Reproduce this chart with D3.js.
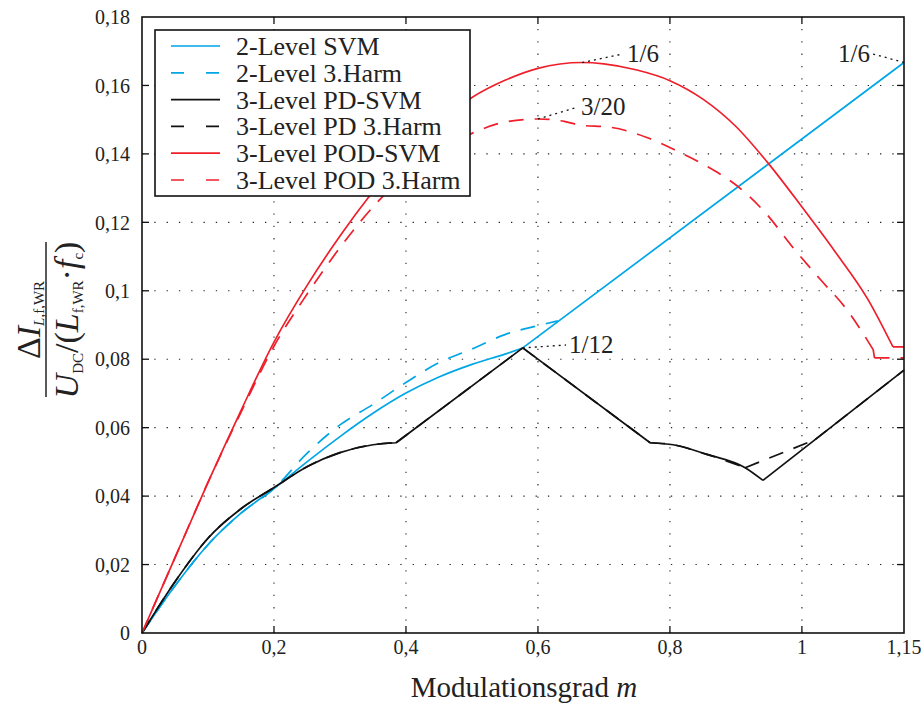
<!DOCTYPE html>
<html>
<head>
<meta charset="utf-8">
<script src="https://cdn.jsdelivr.net/npm/d3@7"></script>
<style>
  body { margin: 0; background: #fff; }
  svg text { font-family: Liberation Serif; }
</style>
</head>
<body>
<script>
var width = 921,
    height = 707;

// values
var mSvm2 = [0, 0.05, 0.1, 0.15, 0.2, 0.25, 0.3, 0.35, 0.4, 0.45, 0.5, 0.55, 0.577, 1.1547];
var svm2 = [0, 0.0138, 0.0258, 0.0350, 0.0422, 0.0500, 0.0574, 0.0642, 0.0701, 0.0748, 0.0785, 0.0815, 0.0833, 0.1667];

var mHarm2 = [0, 0.05, 0.1, 0.15, 0.2, 0.25, 0.3, 0.35, 0.4, 0.45, 0.5, 0.55, 0.6, 0.63];
var harm2 = [0, 0.0138, 0.0258, 0.0350, 0.0422, 0.0525, 0.0608, 0.0668, 0.0732, 0.0790, 0.0830, 0.0872, 0.0898, 0.0912];

var mPd = [0, 0.05, 0.1, 0.15, 0.2, 0.25, 0.3, 0.35, 0.385, 0.577, 0.77, 0.805, 0.856, 0.914, 0.941, 1.1547];
var pdSvm = [0, 0.0150, 0.0277, 0.0363, 0.0425, 0.0486, 0.0527, 0.0550, 0.0556, 0.0833, 0.0556, 0.0550, 0.0522, 0.0483, 0.0446, 0.0768];

var mPdHarm = [0, 0.05, 0.1, 0.15, 0.2, 0.25, 0.3, 0.35, 0.385, 0.577, 0.77, 0.805, 0.856, 0.914, 1.02, 1.1547];
var pdHarm = [0, 0.0150, 0.0277, 0.0363, 0.0425, 0.0486, 0.0527, 0.0550, 0.0556, 0.0833, 0.0556, 0.0550, 0.0522, 0.0483, 0.0565, 0.0768];

var mPod = [0, 0.05, 0.1, 0.15, 0.2, 0.25, 0.3, 0.35, 0.4, 0.45, 0.5, 0.55, 0.6, 0.667, 0.7, 0.75, 0.8, 0.85, 0.9, 0.95, 1.0, 1.05, 1.1, 1.138, 1.1547];
var podSvm = [0, 0.0220, 0.0440, 0.0650, 0.0850, 0.1015, 0.1160, 0.1290, 0.1405, 0.1495, 0.1565, 0.1615, 0.1650, 0.1667, 0.1663, 0.1645, 0.1614, 0.1560, 0.1480, 0.1370, 0.1245, 0.1115, 0.0975, 0.0836, 0.0836];

var mPodHarm = [0, 0.05, 0.1, 0.15, 0.2, 0.25, 0.3, 0.35, 0.4, 0.45, 0.5, 0.55, 0.6, 0.64, 0.664, 0.709, 0.765, 0.81, 0.85, 0.906, 0.946, 0.987, 1.027, 1.068, 1.108, 1.11, 1.1547];
var podHarm = [0, 0.0220, 0.0440, 0.0645, 0.0838, 0.0990, 0.1126, 0.1245, 0.1340, 0.1410, 0.1460, 0.1493, 0.1502, 0.1495, 0.1484, 0.1478, 0.1448, 0.1409, 0.1370, 0.1300, 0.1225, 0.1125, 0.1035, 0.0945, 0.0828, 0.0804, 0.0804];

// m values where a curve has a corner
var kinksSvm2 = [0.577];
var kinksPd = [0.385, 0.577, 0.77, 0.941];
var kinksPdHarm = [0.385, 0.577, 0.77, 0.914, 1.02];
var kinksPod = [1.138];
var kinksPodHarm = [1.108, 1.11];

var xTicks = [0, 0.2, 0.4, 0.6, 0.8, 1, 1.1547];
var xTickLabels = ["0", "0,2", "0,4", "0,6", "0,8", "1", "1,15"];
var yTicks = [0, 0.02, 0.04, 0.06, 0.08, 0.1, 0.12, 0.14, 0.16, 0.18];
var yTickLabels = ["0", "0,02", "0,04", "0,06", "0,08", "0,1", "0,12", "0,14", "0,16", "0,18"];

var seriesNames = ["2-Level SVM", "2-Level 3.Harm", "3-Level PD-SVM", "3-Level PD 3.Harm", "3-Level POD-SVM", "3-Level POD 3.Harm"];

var cyan = "#00a6e6", red = "#ee1f2b", black = "#111";

var series = [
  {name: seriesNames[0], m: mSvm2, v: svm2, kinks: kinksSvm2, color: cyan, dash: null},
  {name: seriesNames[1], m: mHarm2, v: harm2, kinks: [], color: cyan, dash: "15,11"},
  {name: seriesNames[2], m: mPd, v: pdSvm, kinks: kinksPd, color: black, dash: null},
  {name: seriesNames[3], m: mPdHarm, v: pdHarm, kinks: kinksPdHarm, color: black, dash: "15,11"},
  {name: seriesNames[4], m: mPod, v: podSvm, kinks: kinksPod, color: red, dash: null},
  {name: seriesNames[5], m: mPodHarm, v: podHarm, kinks: kinksPodHarm, color: red, dash: "15,11"}
];

// labelled points: [m, value, text x, text baseline, text, leader end x]
var notes = [
  [0.667, 0.1667, 627, 62, "1/6", 623],
  [0.6, 0.1502, 581, 115, "3/20", 578],
  [0.577, 0.0833, 569, 353, "1/12", 566],
  [1.1547, 0.1667, 838, 62, "1/6", 873]
];

var svg = d3.select("body").append("svg")
  .attr("width", width)
  .attr("height", height)
  .attr("font-family", "Liberation Serif");

var x = d3.scaleLinear().domain([0, 1.1547]).range([142, 904]);
var y = d3.scaleLinear().domain([0, 0.18]).range([633, 17]);

// grid
svg.append("g").selectAll("line")
  .data(xTicks.slice(1, 6))
  .enter().append("line")
  .attr("x1", function(d) { return x(d); })
  .attr("x2", function(d) { return x(d); })
  .attr("y1", y(0))
  .attr("y2", y(0.18))
  .attr("stroke", "#222")
  .attr("stroke-width", 1.1)
  .attr("stroke-dasharray", "1.3,11");

svg.append("g").selectAll("line")
  .data(yTicks.slice(1, 9))
  .enter().append("line")
  .attr("x1", x(0))
  .attr("x2", x(1.1547))
  .attr("y1", function(d) { return y(d); })
  .attr("y2", function(d) { return y(d); })
  .attr("stroke", "#222")
  .attr("stroke-width", 1.1)
  .attr("stroke-dasharray", "1.3,11");

// curves, smooth between corners
var line = d3.line()
  .x(function(d) { return x(d[0]); })
  .y(function(d) { return y(d[1]); })
  .curve(d3.curveMonotoneX);

series.forEach(function(s) {
  var pts = s.m.map(function(m, i) { return [m, s.v[i]]; });
  var pieces = [[]];
  pts.forEach(function(p) {
    pieces[pieces.length - 1].push(p);
    if (s.kinks.indexOf(p[0]) >= 0) pieces.push([p]);
  });
  var d = pieces.filter(function(p) { return p.length > 1; })
    .map(function(p) { return line(p); }).join("");
  svg.append("path")
    .attr("d", d)
    .attr("fill", "none")
    .attr("stroke", s.color)
    .attr("stroke-width", 1.7)
    .attr("stroke-linejoin", "round")
    .attr("stroke-dasharray", s.dash);
});

// annotations with dotted leaders
notes.forEach(function(n) {
  svg.append("line")
    .attr("x1", x(n[0])).attr("y1", y(n[1]))
    .attr("x2", n[5]).attr("y2", n[3] - 8)
    .attr("stroke", "#111")
    .attr("stroke-width", 1.3)
    .attr("stroke-dasharray", "2,4");
  svg.append("text")
    .attr("x", n[2])
    .attr("y", n[3])
    .attr("fill", "#222")
    .style("font-size", "25px")
    .text(n[4]);
});

// frame
svg.append("rect")
  .attr("x", x(0)).attr("y", y(0.18))
  .attr("width", x(1.1547) - x(0))
  .attr("height", y(0) - y(0.18))
  .attr("fill", "none")
  .attr("stroke", "#111")
  .attr("stroke-width", 1.6);

// inward ticks on all four sides
var ticks = svg.append("g").attr("stroke", "#111").attr("stroke-width", 1.3);
xTicks.slice(1, 6).forEach(function(t) {
  ticks.append("line").attr("x1", x(t)).attr("x2", x(t)).attr("y1", y(0)).attr("y2", y(0) - 7);
  ticks.append("line").attr("x1", x(t)).attr("x2", x(t)).attr("y1", y(0.18)).attr("y2", y(0.18) + 7);
});
yTicks.slice(1, 9).forEach(function(t) {
  ticks.append("line").attr("x1", x(0)).attr("x2", x(0) + 7).attr("y1", y(t)).attr("y2", y(t));
  ticks.append("line").attr("x1", x(1.1547)).attr("x2", x(1.1547) - 7).attr("y1", y(t)).attr("y2", y(t));
});

// tick labels
svg.append("g").selectAll("text")
  .data(xTicks)
  .enter().append("text")
  .attr("x", function(d) { return x(d); })
  .attr("y", 654)
  .attr("text-anchor", "middle")
  .attr("fill", "#222")
  .style("font-size", "20px")
  .text(function(d, i) { return xTickLabels[i]; });

svg.append("g").selectAll("text")
  .data(yTicks)
  .enter().append("text")
  .attr("x", 130)
  .attr("y", function(d) { return y(d); })
  .attr("dy", "0.36em")
  .attr("text-anchor", "end")
  .attr("fill", "#222")
  .style("font-size", "20px")
  .text(function(d, i) { return yTickLabels[i]; });

// x title
var xt = svg.append("text")
  .attr("x", 524)
  .attr("y", 697)
  .attr("text-anchor", "middle")
  .attr("fill", "#222")
  .style("font-size", "29px");
xt.append("tspan").text("Modulationsgrad ");
xt.append("tspan").style("font-style", "italic").text("m");

// y title as a fraction
var yt = svg.append("g").attr("transform", "translate(46,320) rotate(-90)");
yt.append("line")
  .attr("x1", -77).attr("x2", 78)
  .attr("y1", 0).attr("y2", 0)
  .attr("stroke", "#222")
  .attr("stroke-width", 1.5);

var num = yt.append("text")
  .attr("x", 0).attr("y", -6)
  .attr("text-anchor", "middle")
  .attr("fill", "#222")
  .style("font-size", "34px");
num.append("tspan").text("\u0394");
num.append("tspan").style("font-style", "italic").text("I");
num.append("tspan").attr("dy", 4).style("font-size", "15px").style("font-style", "italic").text("L");
num.append("tspan").style("font-size", "15px").text(",f,WR");

var den = yt.append("text")
  .attr("x", 0).attr("y", 32)
  .attr("text-anchor", "middle")
  .attr("fill", "#222")
  .style("font-size", "34px");
den.append("tspan").style("font-style", "italic").text("U");
den.append("tspan").attr("dy", 5).style("font-size", "15px").text("DC");
den.append("tspan").attr("dy", -5).text("/(");
den.append("tspan").style("font-style", "italic").text("L");
den.append("tspan").attr("dy", 5).style("font-size", "15px").text("f,WR");
den.append("tspan").attr("dy", -5).text("\u00b7");
den.append("tspan").style("font-style", "italic").text("f");
den.append("tspan").attr("dy", 5).style("font-size", "15px").text("c");
den.append("tspan").attr("dy", -5).text(")");

// legend
var legend = svg.append("g");
legend.append("rect")
  .attr("x", 155).attr("y", 30)
  .attr("width", 315).attr("height", 166)
  .attr("fill", "#fff")
  .attr("stroke", "#111")
  .attr("stroke-width", 1.6);

series.forEach(function(s, i) {
  var ly = 46 + i * 26.8;
  legend.append("line")
    .attr("x1", 171).attr("x2", 220)
    .attr("y1", ly).attr("y2", ly)
    .attr("stroke", s.color)
    .attr("stroke-width", 1.7)
    .attr("stroke-dasharray", s.dash ? "13,22" : null);
  legend.append("text")
    .attr("x", 236)
    .attr("y", ly + 9)
    .attr("fill", "#222")
    .style("font-size", "26px")
    .text(s.name);
});
</script>
</body>
</html>
